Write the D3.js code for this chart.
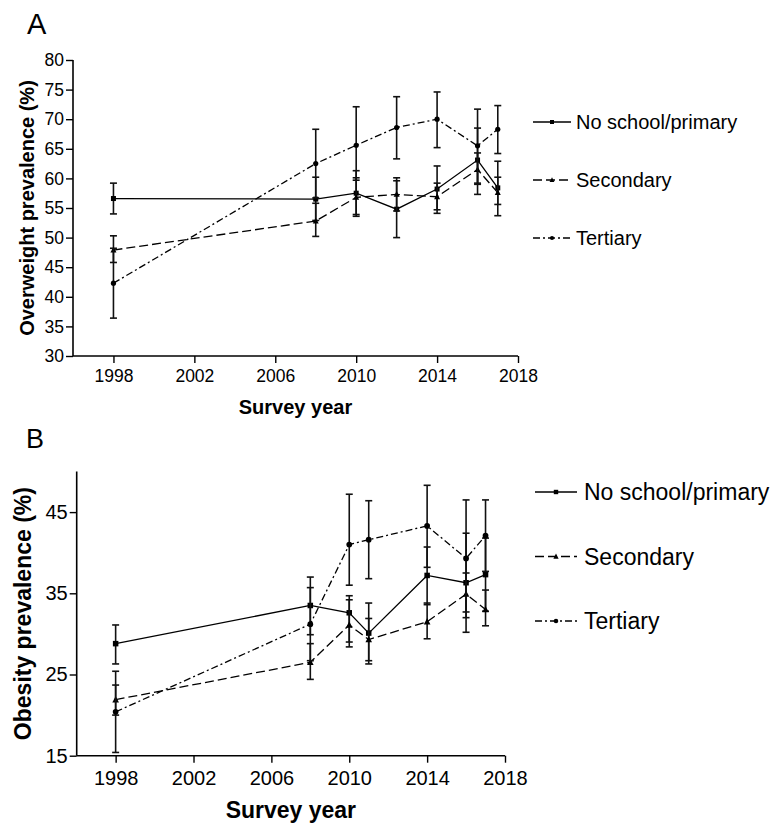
<!DOCTYPE html>
<html>
<head>
<meta charset="utf-8">
<script src="https://cdn.jsdelivr.net/npm/d3@7"></script>
<style>
  body { margin: 0; background: #fff; }
  svg { display: block; font-family: "Liberation Sans", Arial, sans-serif; }
</style>
</head>
<body>
<svg id="chart" width="771" height="825"></svg>
<script>
// ---------- Data ----------
const seriesNames = ["No school/primary", "Secondary", "Tertiary"];

// Panel A: overweight prevalence
const yearsA = [1998, 2008, 2010, 2012, 2014, 2016, 2017];
const noSchoolA    = [56.6, 56.5, 57.5, 54.8, 58.2, 63.1, 58.4];
const noSchoolA_lo = [54.0, 52.9, 53.6, 50.0, 54.1, 57.3, 53.7];
const noSchoolA_hi = [59.2, 60.2, 61.3, 59.6, 62.1, 68.5, 62.9];
const secondaryA    = [47.9, 52.8, 56.8, 57.3, 56.9, 61.5, 57.6];
const secondaryA_lo = [45.8, 50.2, 53.9, 54.5, 54.7, 59.0, 55.6];
const secondaryA_hi = [50.3, 55.8, 60.1, 60.1, 59.2, 64.3, 60.2];
const tertiaryA    = [42.3, 62.5, 65.6, 68.6, 70.0, 65.5, 68.3];
const tertiaryA_lo = [36.4, 56.7, 59.7, 63.3, 65.2, 59.2, 64.2];
const tertiaryA_hi = [48.2, 68.3, 72.1, 73.8, 74.6, 71.7, 72.3];

// Panel B: obesity prevalence
const yearsB = [1998, 2008, 2010, 2011, 2014, 2016, 2017];
const noSchoolB    = [28.8, 33.5, 32.6, 30.1, 37.2, 36.3, 37.3];
const noSchoolB_lo = [26.3, 29.9, 29.0, 26.7, 33.6, 30.2, 32.8];
const noSchoolB_hi = [31.1, 37.0, 34.7, 33.8, 40.7, 42.4, 41.8];
const secondaryB    = [21.9, 26.5, 31.1, 29.3, 31.5, 34.9, 33.0];
const secondaryB_lo = [20.0, 24.4, 28.4, 26.3, 29.4, 32.7, 31.0];
const secondaryB_hi = [23.7, 28.8, 34.2, 31.9, 33.8, 37.5, 35.4];
const tertiaryB    = [20.4, 31.2, 41.0, 41.6, 43.3, 39.3, 42.1];
const tertiaryB_lo = [15.4, 26.7, 36.0, 36.8, 38.2, 32.0, 37.7];
const tertiaryB_hi = [25.4, 35.7, 47.2, 46.4, 48.3, 46.5, 46.5];

const xTicks = [1998, 2002, 2006, 2010, 2014, 2018];
const yTicksA = [30, 35, 40, 45, 50, 55, 60, 65, 70, 75, 80];
const yTicksB = [15, 25, 35, 45];

// ---------- Styles ----------
const dashes = [null, "9,4", "7,3,2,3"];
const markers = ["square", "triangle", "circle"];

const svg = d3.select("#chart");

function build(arr, lo, hi, yrs) {
  return yrs.map((y, i) => ({ year: y, v: arr[i], lo: lo[i], hi: hi[i] }));
}

function drawMarker(g, type, x, y, s) {
  if (type === "square") {
    g.append("rect").attr("x", x - s / 2).attr("y", y - s / 2)
      .attr("width", s).attr("height", s).attr("fill", "#000");
  } else if (type === "triangle") {
    const h = s * 1.1;
    g.append("path")
      .attr("d", `M${x},${y - h * 0.6}L${x + s * 0.6},${y + h * 0.45}L${x - s * 0.6},${y + h * 0.45}Z`)
      .attr("fill", "#000");
  } else {
    g.append("circle").attr("cx", x).attr("cy", y).attr("r", s * 0.52).attr("fill", "#000");
  }
}

function panel(cfg) {
  const x = d3.scaleLinear().domain([1996, 2018]).range(cfg.xRange);
  const y = d3.scaleLinear().domain(cfg.yDomain).range(cfg.yRange);
  const g = svg.append("g");

  // Axes
  const xAxis = d3.axisBottom(x).tickValues(xTicks).tickFormat(d3.format("d"))
    .tickSize(7).tickSizeOuter(0);
  const gx = g.append("g").attr("transform", `translate(0,${cfg.yRange[0]})`).call(xAxis);
  gx.select(".domain").attr("stroke-width", 1.6).attr("d", `M${cfg.xRange[0]},0H${cfg.xRange[1]}`);
  gx.selectAll(".tick line").attr("stroke-width", 1.4);
  gx.selectAll(".tick text").attr("font-size", cfg.tickFont).attr("dy", "0.71em")
    .attr("y", cfg.xTickY).attr("fill", "#000").attr("font-family", "Liberation Sans, Arial, sans-serif");

  const yAxis = d3.axisLeft(y).tickValues(cfg.yTicks).tickSize(7).tickSizeOuter(0);
  const gy = g.append("g").attr("transform", `translate(${cfg.xRange[0]},0)`).call(yAxis);
  gy.select(".domain").attr("stroke-width", 1.6).attr("d", `M0,${cfg.yRange[0]}V${cfg.yRange[1]}`);
  gy.selectAll(".tick line").attr("stroke-width", 1.4);
  gy.selectAll(".tick text").attr("font-size", cfg.tickFont).attr("x", -9)
    .attr("fill", "#000").attr("font-family", "Liberation Sans, Arial, sans-serif");

  // Titles
  g.append("text").attr("x", (cfg.xRange[0] + cfg.xRange[1]) / 2).attr("y", cfg.xTitleY)
    .attr("text-anchor", "middle").attr("font-weight", "bold").attr("font-size", cfg.titleFont)
    .text("Survey year");
  g.append("text").attr("transform", `translate(${cfg.yTitleX},${(cfg.yRange[0] + cfg.yRange[1]) / 2}) rotate(-90)`)
    .attr("text-anchor", "middle").attr("font-weight", "bold").attr("font-size", cfg.titleFont)
    .text(cfg.yTitle);
  g.append("text").attr("x", cfg.labelPos[0]).attr("y", cfg.labelPos[1])
    .attr("font-size", cfg.labelFont).text(cfg.label);

  // Series
  const line = d3.line().x(d => x(d.year)).y(d => y(d.v));
  cfg.series.forEach((s, k) => {
    const sg = g.append("g");
    // error bars
    s.forEach(d => {
      const cx = x(d.year);
      sg.append("line").attr("x1", cx).attr("x2", cx).attr("y1", y(d.lo)).attr("y2", y(d.hi))
        .attr("stroke", "#111").attr("stroke-width", 1.6);
      [d.lo, d.hi].forEach(v => {
        sg.append("line").attr("x1", cx - 3.5).attr("x2", cx + 3.5).attr("y1", y(v)).attr("y2", y(v))
          .attr("stroke", "#111").attr("stroke-width", 1.6);
      });
    });
    sg.append("path").datum(s).attr("d", line).attr("fill", "none")
      .attr("stroke", "#000").attr("stroke-width", 1.3)
      .attr("stroke-dasharray", dashes[k]);
    s.forEach(d => drawMarker(sg, markers[k], x(d.year), y(d.v), cfg.markerSize));
  });

  // Legend
  seriesNames.forEach((name, k) => {
    const ly = cfg.legend.y0 + k * cfg.legend.dy;
    const lg = g.append("g");
    lg.append("line").attr("x1", cfg.legend.x0).attr("x2", cfg.legend.x1)
      .attr("y1", ly).attr("y2", ly).attr("stroke", "#000").attr("stroke-width", 1.3)
      .attr("stroke-dasharray", dashes[k]);
    drawMarker(lg, markers[k], (cfg.legend.x0 + cfg.legend.x1) / 2, ly, cfg.markerSize * 0.8);
    lg.append("text").attr("x", cfg.legend.tx).attr("y", ly).attr("dy", "0.35em")
      .attr("font-size", cfg.legendFont).text(name);
  });
}

panel({
  label: "A", labelPos: [27, 34], labelFont: 29,
  xRange: [73, 518], yRange: [356, 60], yDomain: [30, 80], yTicks: yTicksA,
  tickFont: 17.5, xTickY: 14, titleFont: 20, xTitleY: 414, yTitleX: 34,
  yTitle: "Overweight prevalence (%)",
  markerSize: 5,
  series: [
    build(noSchoolA, noSchoolA_lo, noSchoolA_hi, yearsA),
    build(secondaryA, secondaryA_lo, secondaryA_hi, yearsA),
    build(tertiaryA, tertiaryA_lo, tertiaryA_hi, yearsA)
  ],
  legend: { x0: 533, x1: 571, tx: 576, y0: 122, dy: 58 },
  legendFont: 20
});

panel({
  label: "B", labelPos: [26, 448], labelFont: 27,
  xRange: [76.7, 505], yRange: [755.7, 471.5], yDomain: [15, 50], yTicks: yTicksB,
  tickFont: 20, xTickY: 15, titleFont: 23, xTitleY: 818, yTitleX: 31,
  yTitle: "Obesity prevalence (%)",
  markerSize: 5.5,
  series: [
    build(noSchoolB, noSchoolB_lo, noSchoolB_hi, yearsB),
    build(secondaryB, secondaryB_lo, secondaryB_hi, yearsB),
    build(tertiaryB, tertiaryB_lo, tertiaryB_hi, yearsB)
  ],
  legend: { x0: 535, x1: 577, tx: 584, y0: 492, dy: 64.5 },
  legendFont: 23
});
</script>
</body>
</html>
